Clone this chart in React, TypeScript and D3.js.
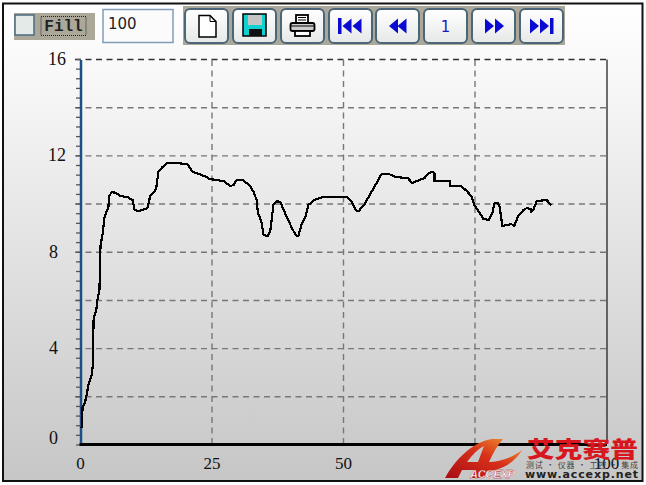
import React from "react";
import * as d3 from "d3";

const xValues = [0.2,0.4,0.8,1.1,1.5,2.1,2.3,2.5,3.0,3.2,3.6,3.8,4.2,4.6,5.3,5.5,5.9,6.8,7.6,8.9,9.9,10.3,11.2,12.7,13.3,14.1,14.4,14.8,15.6,16.5,18.3,20.3,21.3,22.6,24.0,24.5,25.9,27.2,28.5,29.1,29.7,30.8,32.1,32.9,33.5,33.7,34.4,34.8,35.6,36.1,36.7,37.3,38.0,38.8,40.1,40.9,41.4,42.0,42.8,43.3,44.5,45.4,46.2,50.6,51.5,52.3,52.9,54.0,55.3,56.5,57.2,58.7,59.9,62.2,63.1,64.4,65.4,66.2,66.9,67.3,67.3,70.2,70.2,72.4,73.6,74.3,74.9,75.9,76.6,77.6,78.3,78.7,79.3,79.7,80.2,81.9,82.5,83.1,84.2,84.8,85.6,85.6,86.1,86.7,88.6,89.5];
const yValues = [0.71,1.58,1.74,1.99,2.49,2.9,3.2,5.27,5.6,6.02,6.43,8.26,8.76,9.5,9.88,10.33,10.5,10.46,10.33,10.29,10.17,9.75,9.71,9.83,10.37,10.54,10.66,11.33,11.54,11.7,11.7,11.66,11.33,11.24,11.12,11.04,11.0,10.95,10.75,10.79,11.0,11.0,10.79,10.5,10.17,9.67,9.25,8.71,8.67,8.92,10.0,10.12,10.08,9.67,9.05,8.71,8.67,9.13,9.5,9.96,10.17,10.25,10.29,10.29,10.12,9.75,9.71,10.0,10.5,10.95,11.24,11.24,11.12,11.08,10.87,11.0,11.08,11.29,11.33,11.29,10.95,10.95,10.75,10.75,10.5,10.33,9.96,9.63,9.38,9.34,9.63,10.04,10.04,9.88,9.09,9.17,9.09,9.46,9.75,9.83,9.79,9.67,9.75,10.12,10.17,9.96];
const xTickLabels = [0, 25, 50, 75, 100];
const yTickLabels = [0, 4, 8, 12, 16];
const yGrid = [2, 4, 6, 8, 10, 12, 14, 16];
const xGrid = [25, 50, 75];
const yMinor = d3.range(0, 41).map((d) => d * 0.4);
const buttonEdges = [185, 233, 281, 329, 376, 424, 472, 520];
const fillLabel = "Fill";
const sizeLabel = "100";
const pageLabel = "1";
const brand = "艾克赛普";
const brandSub = "测试 · 仪器 · 工控 · 集成";
const brandUrl = "www.accexp.net";
const brandLogo = "ACCEXP";

const x = d3.scaleLinear().domain([0, 100]).range([80.5, 606.5]);
const y = d3.scaleLinear().domain([0, 16]).range([445, 59.5]);
const line = d3.line<number>().x((d) => x(d)).y((_, i) => y(yValues[i]));
const serif = "'Liberation Serif', serif";
const blue = "#0a0ad2";

function Tri({ cx, dir, cy = 26 }: { cx: number; dir: number; cy?: number }) {
  return <path d={`M${cx - dir * 4.5},${cy - 7.5}L${cx + dir * 4.5},${cy}L${cx - dir * 4.5},${cy + 7.5}Z`} fill={blue} />;
}

export default function App() {
  const bw = 43;
  return (
    <svg width={646} height={485} style={{ position: "absolute", left: 0, top: 0 }}>
      <defs>
        <linearGradient id="bg" x1="0" y1="0" x2="0" y2="1">
          <stop offset="0" stopColor="#ffffff" />
          <stop offset="0.15" stopColor="#f8f8f8" />
          <stop offset="1" stopColor="#c6c6c6" />
        </linearGradient>
        <linearGradient id="btn" x1="0" y1="0" x2="0" y2="1">
          <stop offset="0" stopColor="#ffffff" />
          <stop offset="1" stopColor="#e6e8e8" />
        </linearGradient>
        <linearGradient id="logo" x1="0" y1="1" x2="1" y2="0">
          <stop offset="0" stopColor="#a80c14" />
          <stop offset="0.55" stopColor="#d8301a" />
          <stop offset="1" stopColor="#f0a030" />
        </linearGradient>
      </defs>
      <rect width={646} height={485} fill="#fff" />
      <rect x={3} y={3.5} width={639.5} height={477.5} fill="url(#bg)" stroke="#111" strokeWidth={2} />

      {/* toolbar */}
      <rect x={14} y={13} width={81} height={27} fill="#aca899" />
      <rect x={15} y={15} width={19} height={20} fill="#e4eae8" stroke="#4a6a80" strokeWidth={1.5} />
      <rect x={41} y={16.5} width={45} height={19} fill="none" stroke="#222" strokeDasharray="1 1" />
      <text x={63.5} y={31} textAnchor="middle" fontFamily="'Liberation Mono', monospace" fontWeight="bold" fontSize={16} fill="#222">{fillLabel}</text>
      <rect x={103} y={9.5} width={70} height={33} fill="#fbfbfb" stroke="#7f9db9" strokeWidth={1.5} />
      <text x={108} y={29} fontFamily="'DejaVu Sans', sans-serif" fontSize={15} fill="#222">{sizeLabel}</text>
      <rect x={183} y={6} width={382} height={39} fill="#aca899" />
      {buttonEdges.map((b) => (
        <rect key={b} x={b} y={9} width={bw} height={34} rx={5} fill="url(#btn)" stroke="#4a6678" strokeWidth={2} />
      ))}
      {/* new */}
      <path d="M199,15.5H210L216,21.5V37H199Z" fill="#fff" stroke="#000" strokeWidth={1.5} />
      <path d="M210,15.5V21.5H216" fill="none" stroke="#000" />
      {/* save */}
      <rect x={243} y={14} width={23} height={22} fill="#10d0d0" stroke="#000" strokeWidth={1.5} />
      <rect x={248} y={15} width={14} height={10} fill="#c4c4c4" />
      <rect x={249} y={29} width={13} height={7} fill="#111" />
      {/* print */}
      <rect x={296} y={15} width={12} height={8} fill="#fff" stroke="#000" strokeWidth={1.8} />
      <rect x={290.5} y={23} width={24} height={8} rx={2} fill="#ccc" stroke="#000" strokeWidth={1.8} />
      <path d="M290,26H314M298,17.5H306M298,20H306" stroke="#000" strokeWidth={1.2} />
      <rect x={295} y={31} width={15} height={5} fill="#fff" stroke="#000" strokeWidth={1.8} />
      {/* nav */}
      <rect x={338} y={18} width={3.5} height={16} fill={blue} />
      <Tri cx={347} dir={-1} /><Tri cx={357} dir={-1} />
      <Tri cx={393.5} dir={-1} /><Tri cx={402} dir={-1} />
      <text x={445.5} y={32} textAnchor="middle" fontFamily="'DejaVu Sans', sans-serif" fontSize={15} fill="#1a1ac0">{pageLabel}</text>
      <Tri cx={489.5} dir={1} /><Tri cx={499.5} dir={1} />
      <Tri cx={534.5} dir={1} /><Tri cx={544.5} dir={1} />
      <rect x={550} y={18} width={3.5} height={16} fill={blue} />

      {/* grid */}
      {yGrid.map((v) => (
        <line key={v} x1={75} x2={607} y1={y(v)} y2={y(v)} stroke={v === 16 ? "#333" : "#777"} strokeWidth={1.4} strokeDasharray="6 4.5" />
      ))}
      {xGrid.map((v) => (
        <line key={v} x1={x(v)} x2={x(v)} y1={60} y2={445} stroke="#777" strokeWidth={1.4} strokeDasharray="6 4.5" />
      ))}
      <line x1={607} x2={607} y1={59.5} y2={444} stroke="#222" strokeWidth={1.3} />
      {/* y axis */}
      {yMinor.map((v, i) => (
        <line key={i} x1={76} x2={81} y1={y(v)} y2={y(v)} stroke="#555" strokeWidth={1.3} />
      ))}
      <line x1={81} x2={81} y1={60} y2={445} stroke="#1d4f86" strokeWidth={2.5} />
      <line x1={79.5} x2={607} y1={444.5} y2={444.5} stroke="#000" strokeWidth={3} />
      {yTickLabels.map((v) => (
        <text key={v} x={v >= 10 ? 66 : 58} y={y(v) + 5.5 - (v === 0 ? 7 : 0)} textAnchor="end" fontFamily={serif} fontSize={18} fill="#111">{v}</text>
      ))}
      {xTickLabels.map((v) => (
        <text key={v} x={x(v)} y={469} textAnchor="middle" fontFamily={serif} fontSize={17} fill="#111">{v}</text>
      ))}
      {/* series */}
      <path d={line(xValues) ?? ""} fill="none" stroke="#000" strokeWidth={2.2} shapeRendering="crispEdges" strokeLinejoin="round" />

      {/* watermark */}
      <path d="M445,478C455,460 472,442 492,439L503,439C497,446 492,455 489,462C499,462 512,458 522,450C514,464 500,470 487,471L484,478L472,478L475,470L462,470L458,478Z" fill="url(#logo)" />
      <path d="M467,462C472,455 478,449 484,446L478,462Z" fill="#c8c8c8" />
      <text x={470} y={478} fontFamily="'Liberation Sans', sans-serif" fontWeight="bold" fontStyle="italic" fontSize={11} fill="#fff" stroke="#b01018" strokeWidth={0.3} textLength={45} lengthAdjust="spacingAndGlyphs">{brandLogo}</text>
      <text x={527} y={457} fontFamily="'Noto Sans CJK SC', sans-serif" fontWeight="900" fontSize={22} fill="#d8161e" textLength={111} lengthAdjust="spacingAndGlyphs">{brand}</text>
      <text x={526} y={468} fontFamily="'Noto Sans CJK SC', sans-serif" fontSize={8} fill="#444" textLength={112}>{brandSub}</text>
      <text x={525} y={478} fontFamily="'DejaVu Sans', sans-serif" fontWeight="bold" fontSize={11} fill="#222" textLength={113}>{brandUrl}</text>
    </svg>
  );
}
